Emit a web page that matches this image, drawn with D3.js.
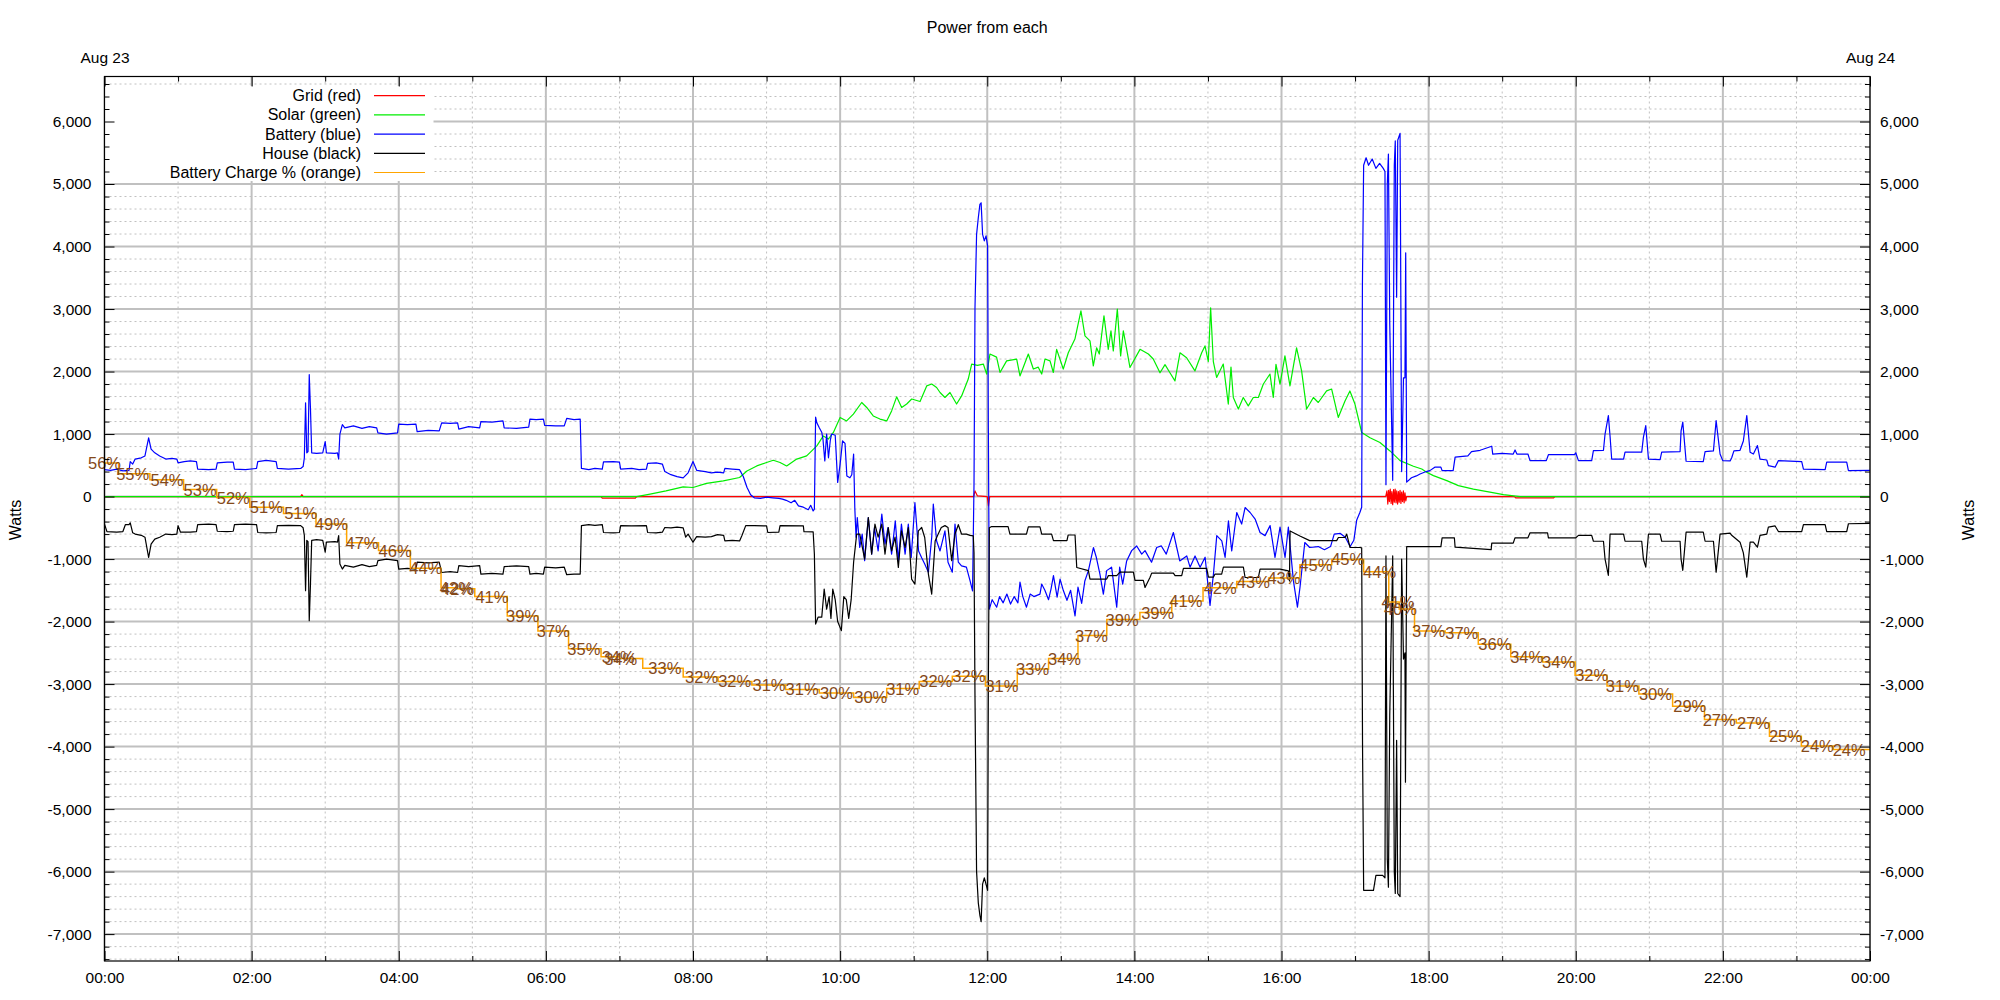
<!DOCTYPE html>
<html><head><meta charset="utf-8">
<script src="https://cdn.jsdelivr.net/npm/d3@7"></script>
<style>
body{margin:0;background:#fff;}
svg{display:block;font-family:"Liberation Sans",Arial,sans-serif;}
</style></head><body>
<svg id="chart" width="2000" height="1000"></svg>
<script>
// ---- DATA (time in minutes after midnight, Aug 23) ----
const chartTitle = "Power from each";
const seriesNames = ["Grid (red)", "Solar (green)", "Battery (blue)", "House (black)", "Battery Charge % (orange)"];

const gridW = [[0,0],[160,0],[161,30],[162,0],[405,0],[406,-25],[433,-25],[434,0],[709,0],[710,90],[712,10],[720,0],[721,-150],[722,0],
[1045,0],[1046,90],[1046.7,-120],[1047.4,100],[1048,-80],[1048.7,120],[1049.4,-110],[1050,80],[1050.7,-130],[1051.4,110],[1052,-90],[1052.7,120],[1053.4,-100],[1054,90],[1054.7,-120],[1055.4,80],[1056,-90],[1056.7,100],[1057.4,-110],[1058,70],[1058.7,-80],[1059.4,90],[1060,-100],[1060.7,60],[1061.4,-70],[1062,0],[1150,0],[1151,-20],[1182,-20],[1183,0],[1440,0]];

const solarW = [[0,0],[434,0],[445,40],[458,90],[472,155],[480,145],[491,210],[504.7,250],[518,305],[524,410],[532,490],[540,545],[545.5,580],[551,545],[556.4,490],[564.6,600],[572.7,650],[581,810],[586.3,970],[590.4,920],[594.5,1025],[600,1265],[605.3,1210],[610.8,1320],[617.6,1505],[621.7,1425],[627,1290],[632.5,1240],[638,1210],[642,1370],[646.1,1595],[650.2,1425],[654.3,1480],[658.4,1560],[665.2,1520],[670.6,1770],[674.7,1800],[678.7,1745],[681.5,1665],[685.5,1585],[689.6,1665],[695,1480],[699.1,1610],[704.5,1880],[707.3,2120],[712,2100],[716.8,2120],[719.5,1960],[722.2,2280],[727.6,2230],[730.4,1985],[735.8,2170],[744,2200],[746.7,1930],[753.5,2280],[757.6,2040],[761.6,2070],[764.4,1960],[767.1,2200],[771.2,2170],[773.9,1985],[776.6,2355],[782,2040],[786.1,2300],[791.5,2520],[796.4,2970],[799.7,2570],[803.8,2490],[806.5,2090],[809.2,2380],[811.4,2280],[815.2,2890],[818.7,2355],[820.9,2650],[822.8,2330],[826.1,3000],[828.8,2250],[831,2650],[836.4,2065],[844.6,2355],[851.4,2280],[855.4,2200],[860.9,1980],[865,2110],[869,1980],[873.1,1850],[877.2,2300],[882.6,2220],[889.4,2010],[894.9,2300],[897.6,2410],[900.3,2160],[902.2,3020],[904.4,2160],[907.1,1905],[912.5,2120],[916.6,1480],[918.8,2070],[920.7,1585],[924.8,1400],[928.8,1585],[932.9,1450],[937,1585],[941.1,1585],[945.2,1800],[950.6,1960],[953.3,1585],[955.5,2115],[958.8,1800],[962.8,2250],[966.9,1770],[972.3,2380],[976.4,2010],[980.5,1400],[986,1585],[990,1505],[996.8,1690],[1000.9,1720],[1006.3,1265],[1011.8,1530],[1015.8,1690],[1019.9,1480],[1025.4,1025],[1032.2,940],[1040.3,865],[1048.5,730],[1056.7,575],[1067.6,485],[1074.4,440],[1078.4,390],[1083.9,335],[1094.8,255],[1104.3,175],[1116.5,120],[1130,70],[1141,30],[1154.6,0],[1440,0]];

const batteryW = [[0,430],[5,420],[10,440],[15,410],[20,420],[21,560],[23,520],[25,600],[30,620],[33,650],[36,940],[38,760],[41,700],[45,650],[50,600],[55,610],[59,600],[60,540],[65,560],[70,570],[75,560],[76,440],[85,430],[91,440],[92,540],[100,550],[105,550],[106,440],[115,430],[124,450],[125,560],[132,580],[140,560],[141,450],[150,440],[160,450],[162,480],[163,620],[164,1500],[165,700],[166,720],[167,1950],[168,1400],[169,700],[173,690],[178,700],[180,880],[181,700],[188,690],[190,700],[191,600],[192,1000],[194,1150],[196,1100],[203,1130],[210,1090],[216,1120],[222,1100],[223,1020],[230,1000],[239,1020],[240,1160],[247,1150],[254,1160],[255,1040],[264,1060],[273,1050],[275,1180],[282,1170],[288,1180],[289,1080],[297,1120],[306,1100],[307,1200],[316,1190],[325,1210],[326,1100],[336,1090],[346,1110],[347,1240],[352,1230],[358,1240],[359,1140],[368,1130],[375,1130],[377,1250],[383,1230],[388,1240],
[389,450],[395,430],[400,450],[406,440],[407,555],[415,560],[420,550],[421,440],[430,450],[436,430],[442,440],[443,530],[450,540],[455,520],[457,400],[462,350],[467,320],[472,300],[476,380],[480,560],[483,420],[490,400],[495,380],[500,390],[505,380],[506,450],[512,440],[518,430],[521,320],[524,150],[527,30],[530,-20],[535,-30],[540,-10],[545,-20],[550,-30],[553,-40],[556,-60],[560,-100],[563,-60],[566,-150],[570,-170],[574,-210],[576,-140],[578,-230],[579,-200],
[580,1270],[581,1180],[583,1100],[585,1030],[586,920],[587.5,570],[589,1000],[590.5,620],[592,900],[593,1000],[596,980],[598,225],[600,520],[602,890],[604,850],[605.5,330],[608,300],[609.5,350],[611,680],[612,-200],[613,-650],[614,-335],[616,-815],[618,-600],[620,-1025],[623,-335],[625.7,-920],[628,-495],[631,-870],[634,-280],[636.6,-760],[639,-495],[642,-920],[645,-390],[647.5,-1025],[650,-440],[653,-920],[655.6,-440],[658,-975],[661,-95],[664,-870],[666.5,-980],[669,-1080],[672,-1210],[674.7,-655],[676,-120],[678.7,-710],[681.5,-870],[685.5,-550],[688,-1050],[691.5,-1210],[693.7,-440],[696.4,-1050],[699,-1110],[703,-1130],[706,-1350],[708,-1510],
[709.2,200],[710,3020],[711.3,4195],[712.7,4460],[714,4675],[715,4700],[716.2,4195],[717.6,4090],[719,4170],[720.3,4010],[720.9,1105],[721.7,-1800],
[724,-1650],[727.7,-1770],[730,-1600],[733,-1700],[736,-1560],[739,-1720],[742,-1600],[745,-1700],[746.7,-1370],[749,-1600],[752,-1770],[755,-1560],[758,-1600],[763,-1560],[764.4,-1400],[767,-1500],[770,-1650],[772,-1480],[774,-1265],[777,-1610],[779.4,-1320],[782,-1500],[785,-1660],[788,-1500],[791.6,-1910],[794,-1450],[797,-1710],[799.6,-1350],[802.5,-1185],[806.6,-815],[809,-975],[811.9,-1240],[814.7,-1560],[817.4,-1185],[821.4,-1130],[825.6,-1770],[828,-1130],[830.5,-1400],[833.7,-1030],[837.8,-865],[841.9,-790],[846,-920],[848.7,-865],[854,-1050],[858.2,-815],[862,-790],[866,-920],[871.8,-575],[877,-1030],[882.7,-950],[885.4,-1130],[889.5,-950],[893.6,-1130],[897.7,-970],[901.7,-1740],[904.5,-1240],[907.2,-625],[911.3,-710],[914,-975],[916.7,-390],[919.4,-870],[923.5,-255],[927.5,-440],[930.3,-175],[934.4,-255],[938.5,-360],[942.5,-575],[946.6,-625],[950.7,-465],[954.7,-975],[958.8,-490],[962.9,-975],[965.6,-490],[969.7,-1345],[973,-1770],[975.1,-1450],[979,-735],[983,-815],[990,-800],[995,-850],[1000,-800],[1003,-600],[1008,-590],[1012,-650],[1016,-800],[1019,-700],[1021.3,-380],[1024,-250],[1025.4,-170],
[1026,3400],[1027,5300],[1029,5420],[1031,5300],[1034,5400],[1037,5250],[1040,5330],[1043,5250],[1044.4,5200],[1045.2,190],[1046.3,5000],[1047.2,5480],[1048.3,2760],[1050.7,260],[1052,5300],[1052.8,5690],[1053.9,3190],[1054.8,5700],[1056.7,5810],[1058,400],[1059.5,1900],[1060.7,1900],[1061.3,3900],[1062.1,230],
[1066,300],[1070,330],[1073,360],[1078,400],[1081,415],[1085,470],[1090,470],[1091,415],[1100,415],[1101.6,630],[1112,650],[1115,720],[1122,740],[1131.5,805],[1132.3,680],[1140,690],[1149,680],[1150.5,745],[1152,680],[1161,680],[1162.7,575],[1176,575],[1177.7,670],[1199,670],[1200,700],[1202.2,575],[1213,575],[1214.4,735],[1222.6,740],[1223.9,1000],[1226.6,1295],[1228,960],[1229.3,600],[1239,600],[1240.2,710],[1253.8,710],[1255.2,950],[1257.1,1135],[1259.3,600],[1268.8,590],[1270.1,710],[1285.1,720],[1285.9,1050],[1287.3,1190],[1290,565],[1304,560],[1305.5,720],[1312.3,730],[1314.5,1215],[1317.7,680],[1319.9,575],[1325.9,570],[1327.2,620],[1329,730],[1334,740],[1336.7,890],[1339.5,1295],[1342.2,710],[1344.9,680],[1348.2,815],[1350.3,600],[1355.8,585],[1357.1,495],[1362.6,470],[1365.3,575],[1384.3,560],[1385.7,440],[1403.4,430],[1404.7,550],[1421,550],[1422.4,415],[1440,420]];

const houseW = [[0,-440],[2,-560],[10,-570],[15,-560],[17,-450],[20,-450],[21,-420],[23,-580],[25,-600],[30,-620],[33,-650],[36,-975],[38,-760],[41,-680],[45,-650],[50,-600],[55,-610],[59,-600],[60,-465],[62,-570],[70,-570],[75,-560],[76,-450],[85,-440],[91,-450],[92,-555],[100,-560],[105,-555],[106,-450],[115,-440],[124,-450],[125,-575],[132,-580],[140,-575],[141,-465],[150,-460],[160,-465],[162,-500],[163,-620],[164,-1505],[165,-700],[166,-720],[167,-1985],[168,-1400],[169,-700],[173,-690],[178,-700],[180,-890],[181,-730],[188,-720],[190,-730],[191,-625],[192,-1080],[194,-1160],[196,-1100],[203,-1130],[210,-1090],[216,-1120],[222,-1100],[223,-1025],[230,-1000],[239,-1025],[240,-1160],[247,-1150],[254,-1160],[255,-1050],[264,-1060],[273,-1050],[275,-1215],[282,-1200],[288,-1215],[289,-1105],[297,-1120],[306,-1105],[307,-1240],[316,-1230],[325,-1240],[326,-1120],[336,-1110],[346,-1120],[347,-1240],[352,-1230],[358,-1240],[359,-1130],[368,-1140],[375,-1130],[377,-1250],[383,-1240],[388,-1240],
[389,-465],[395,-450],[400,-460],[406,-450],[407,-575],[415,-580],[420,-575],[421,-465],[430,-470],[442,-465],[443,-575],[450,-580],[455,-570],[457,-495],[462,-500],[467,-490],[472,-500],[474,-650],[476,-600],[480,-730],[483,-640],[490,-650],[495,-640],[500,-610],[505,-620],[506,-710],[512,-700],[518,-710],[520,-620],[523,-465],[530,-465],[540,-470],[541,-575],[550,-570],[551,-465],[570,-470],[570.5,-560],[578,-565],[579,-920],
[580,-2040],[582,-1930],[585,-1930],[587,-1480],[589,-1800],[591,-1600],[592.5,-1950],[594,-1480],[596,-1650],[598,-2000],[601,-2145],[603,-1600],[605,-1650],[607,-1950],[609,-1650],[611,-1050],[613.5,-600],[616,-600],[620,-1000],[623,-335],[625.7,-920],[628.4,-440],[631,-650],[634,-440],[636.6,-920],[639.3,-495],[642,-870],[644.8,-650],[647.5,-1135],[650,-550],[653,-815],[655.6,-495],[658.3,-1320],[661,-1400],[663.8,-550],[666.5,-495],[669,-655],[672,-1240],[674.7,-1560],[677.5,-710],[680,-600],[682.5,-495],[685.5,-465],[688,-495],[691,-1025],[693.7,-600],[696.4,-450],[699,-600],[703,-600],[706,-620],[708.6,-630],
[709.2,-900],[710,-3200],[711.3,-6000],[712.7,-6500],[714,-6700],[715,-6800],[716.2,-6200],[717.6,-6100],[719,-6200],[720.3,-6300],[720.9,-3000],[721.7,-500],
[723.6,-480],[737,-480],[738.5,-600],[752,-600],[753.5,-485],[763,-485],[764.4,-600],[772.5,-600],[774,-705],[785,-705],[786,-615],[791.6,-615],[793,-1135],[802.5,-1185],[803.8,-1320],[817.4,-1320],[818.8,-1265],[825.6,-1265],[828.3,-1210],[839.2,-1210],[840.5,-1340],[847.3,-1340],[848.7,-1455],[852.8,-1290],[854.1,-1225],[871.8,-1225],[873.2,-1265],[878.6,-1265],[880,-1150],[899,-1150],[900.4,-1290],[904.4,-1290],[905.8,-1240],[911.2,-1240],[912.6,-1130],[928.9,-1130],[930.3,-1295],[941.1,-1295],[942.5,-1160],[958.8,-1160],[965.6,-1190],[966.5,-1350],[967,-550],[975,-630],[983,-705],[1005,-705],[1006.4,-655],[1011.8,-655],[1013.2,-600],[1015.9,-815],[1024,-815],[1025.4,-820],
[1026.1,-4000],[1027,-6300],[1035,-6300],[1037,-6060],[1042.5,-6060],[1044.4,-6100],[1045.2,-950],[1046.3,-5800],[1047.2,-6250],[1048.3,-3500],[1050.7,-950],[1052,-6000],[1052.8,-6350],[1053.9,-3900],[1054.8,-6350],[1056.7,-6400],[1058,-1000],[1059.5,-2600],[1060.7,-2500],[1061.1,-4570],[1062.1,-800],
[1073,-800],[1090,-800],[1091,-660],[1101,-660],[1101.6,-810],[1131,-850],[1131.5,-745],[1149,-745],[1150.5,-660],[1161,-660],[1162.7,-580],[1177,-580],[1177.7,-660],[1200,-660],[1202.2,-620],[1213,-620],[1214.4,-715],[1222.6,-715],[1223.9,-1000],[1226.6,-1260],[1228,-600],[1239,-600],[1240.2,-715],[1253.8,-715],[1255.2,-1000],[1257.1,-1130],[1259.3,-600],[1268.8,-600],[1270.1,-715],[1285.1,-715],[1285.9,-1000],[1287.3,-1180],[1290,-570],[1304,-570],[1305.5,-715],[1312.3,-715],[1314.5,-1210],[1317.7,-600],[1325.9,-585],[1327.2,-620],[1334,-730],[1336.7,-900],[1339.5,-1290],[1342.2,-730],[1344.9,-730],[1348.2,-810],[1350.3,-620],[1355.8,-600],[1357.1,-490],[1362.6,-470],[1365.3,-560],[1384.3,-560],[1385.7,-450],[1403.4,-450],[1404.7,-560],[1421,-560],[1422.4,-435],[1440,-430]];

// battery charge % points (minute, percent) and their labels
const chargePct = [[0,56.3],[23,55.1],[51,54.4],[78,53.3],[105,52.4],[132,51.3],[160,50.6],[185,49.4],[210,47.3],[237,46.4],[262,44.4],[287,42.2],[288,42.1],[316,41.2],[341,39.0],[366,37.3],[391,35.3],[419,34.4],[421,34.2],[457,33.1],[487,32.1],[514,31.6],[542,31.2],[569,30.7],[597,30.3],[625,29.8],[651,30.8],[678,31.6],[705,32.2],[732,31.1],[757,33.0],[783,34.2],[805,36.8],[830,38.6],[859,39.4],[882,40.7],[910,42.2],[937,42.9],[962,43.3],[988,44.8],[1014,45.4],[1040,44.0],[1055,40.6],[1057,39.8],[1080,37.3],[1107,37.1],[1134,35.8],[1160,34.4],[1186,33.8],[1213,32.3],[1238,31.1],[1265,30.2],[1293,28.8],[1317,27.3],[1345,26.9],[1371,25.4],[1397,24.3],[1423,23.9],[1440,23.9]];
const chargeLabels = ["56%","55%","54%","53%","52%","51%","51%","49%","47%","46%","44%","42%","42%","41%","39%","37%","35%","34%","34%","33%","32%","32%","31%","31%","30%","30%","31%","32%","32%","31%","33%","34%","37%","39%","39%","41%","42%","43%","43%","45%","45%","44%","41%","40%","37%","37%","36%","34%","34%","32%","31%","30%","29%","27%","27%","25%","24%","24%"];

// ---- CHART ----
const svg = d3.select("#chart");
const L = 104.5, R = 1870, T = 76.5, B = 961;
const day0 = new Date(2023, 7, 23, 0, 0), day1 = new Date(2023, 7, 24, 0, 0);
const tm = m => new Date(day0.getTime() + m * 60000);

const x = d3.scaleTime().domain([day0, day1]).range([L, R]);
const y = d3.scaleLinear().domain([-7430, 6720]).range([B, T]);
const y2 = d3.scaleLinear().domain([0, 100]).range([B, T]);

const loc = d3.formatLocale({decimal: ".", thousands: ",", grouping: [3], currency: ["$", ""], minus: "-"});
const fmt = loc.format(",");

svg.append("rect").attr("width", 2000).attr("height", 1000).attr("fill", "#fff");

const hours1 = d3.timeHour.every(1).range(day0, tm(1441));
const hours2 = d3.timeHour.every(2).range(day0, tm(1441));
const hoursMinor = hours1.filter(d => d.getHours() % 2 === 1);
const yMajor = d3.range(-7000, 6001, 1000);
const yMinor = d3.range(-7400, 6701, 200).filter(v => v % 1000 !== 0);

const grid = svg.append("g");
grid.selectAll(".gxm").data(hoursMinor).join("line")
  .attr("x1", d => x(d)).attr("x2", d => x(d)).attr("y1", T).attr("y2", B)
  .attr("stroke", "#c0c0c0").attr("stroke-width", 1).attr("stroke-dasharray", "2,3");
grid.selectAll(".gym").data(yMinor).join("line")
  .attr("x1", L).attr("x2", R).attr("y1", d => y(d)).attr("y2", d => y(d))
  .attr("stroke", "#c0c0c0").attr("stroke-width", 1).attr("stroke-dasharray", "2,3");
grid.selectAll(".gxM").data(hours2).join("line")
  .attr("x1", d => x(d)).attr("x2", d => x(d)).attr("y1", T).attr("y2", B)
  .attr("stroke", "#c0c0c0").attr("stroke-width", 2);
grid.selectAll(".gyM").data(yMajor).join("line")
  .attr("x1", L).attr("x2", R).attr("y1", d => y(d)).attr("y2", d => y(d))
  .attr("stroke", "#c0c0c0").attr("stroke-width", 2);

const line = d3.line().x(d => x(tm(d[0]))).y(d => y(d[1]));
const plot = svg.append("g");
const series = [[gridW, "#ff0000"], [solarW, "#00ee00"], [batteryW, "#0000ff"], [houseW, "#000000"]];
series.forEach(([data, color]) => {
  plot.append("path").datum(data).attr("d", line)
    .attr("fill", "none").attr("stroke", color).attr("stroke-width", 1.2).attr("stroke-linejoin", "round");
});
const line2 = d3.line().x(d => x(tm(d[0]))).y(d => y2(d[1])).curve(d3.curveStep);
plot.append("path").datum(chargePct).attr("d", line2)
  .attr("fill", "none").attr("stroke", "#ffa500").attr("stroke-width", 1.5);
plot.selectAll(".lab").data(chargeLabels).join("text")
  .attr("x", (d, i) => x(tm(chargePct[i][0])))
  .attr("y", (d, i) => y2(chargePct[i][1]))
  .attr("text-anchor", "middle").attr("dominant-baseline", "central")
  .attr("font-size", 16.5).attr("fill", "#84491a").text(d => d);

// legend (opaque)
const leg = svg.append("g");
leg.append("rect").attr("x", L + 0.5).attr("y", 86).attr("width", 433 - L).attr("height", 95).attr("fill", "#fff");
const legColors = ["#ff0000", "#00ee00", "#0000ff", "#000000", "#ffa500"];
seriesNames.forEach((n, i) => {
  const yy = 95.7 + i * 19.2;
  leg.append("text").attr("x", 361).attr("y", yy).attr("text-anchor", "end")
    .attr("dominant-baseline", "central").attr("font-size", 16).attr("fill", "#000").text(n);
  leg.append("line").attr("x1", 374).attr("x2", 425).attr("y1", yy).attr("y2", yy)
    .attr("stroke", legColors[i]).attr("stroke-width", 1.2);
});

// axes
function styleAxis(g, size) {
  g.select(".domain").remove();
  g.selectAll(".tick line").attr("stroke", "#000").attr("stroke-width", 1);
  g.selectAll("text").attr("font-size", size).attr("fill", "#000")
    .attr("font-family", "'Liberation Sans', Arial, sans-serif");
}
svg.append("g").attr("transform", `translate(${L},0)`)
  .call(d3.axisLeft(y).tickValues(yMajor).tickSize(-10).tickPadding(13).tickFormat(fmt)).call(g => styleAxis(g, 15.5));
svg.append("g").attr("transform", `translate(${L},0)`)
  .call(d3.axisLeft(y).tickValues(yMinor).tickSize(-5).tickFormat("")).call(g => styleAxis(g, 15.5));
svg.append("g").attr("transform", `translate(${R},0)`)
  .call(d3.axisRight(y).tickValues(yMajor).tickSize(-10).tickPadding(10).tickFormat(fmt)).call(g => styleAxis(g, 15.5));
svg.append("g").attr("transform", `translate(${R},0)`)
  .call(d3.axisRight(y).tickValues(yMinor).tickSize(-5).tickFormat("")).call(g => styleAxis(g, 15.5));
svg.append("g").attr("transform", `translate(0,${B})`)
  .call(d3.axisBottom(x).tickValues(hours2).tickSize(-10).tickPadding(11).tickFormat(d3.timeFormat("%H:%M"))).call(g => styleAxis(g, 15.5));
svg.append("g").attr("transform", `translate(0,${B})`)
  .call(d3.axisBottom(x).tickValues(hoursMinor).tickSize(-5).tickFormat("")).call(g => styleAxis(g, 15.5));
svg.append("g").attr("transform", `translate(0,${T})`)
  .call(d3.axisTop(x).tickValues(hours2).tickSize(-10).tickPadding(14)
    .tickFormat(d => d.getHours() === 0 ? d3.timeFormat("%b %d")(d) : "")).call(g => styleAxis(g, 15.5));
svg.append("g").attr("transform", `translate(0,${T})`)
  .call(d3.axisTop(x).tickValues(hoursMinor).tickSize(-5).tickFormat("")).call(g => styleAxis(g, 15.5));

svg.append("rect").attr("x", L).attr("y", T).attr("width", R - L).attr("height", B - T)
  .attr("fill", "none").attr("stroke", "#000").attr("stroke-width", 1.2);

svg.append("text").attr("x", (L + R) / 2).attr("y", 27).attr("text-anchor", "middle")
  .attr("dominant-baseline", "central").attr("font-size", 16).text(chartTitle);
[15, 1968].forEach(xx => {
  svg.append("text").attr("transform", `translate(${xx},520) rotate(-90)`)
    .attr("text-anchor", "middle").attr("dominant-baseline", "central").attr("font-size", 16).text("Watts");
});
</script>
</body></html>
